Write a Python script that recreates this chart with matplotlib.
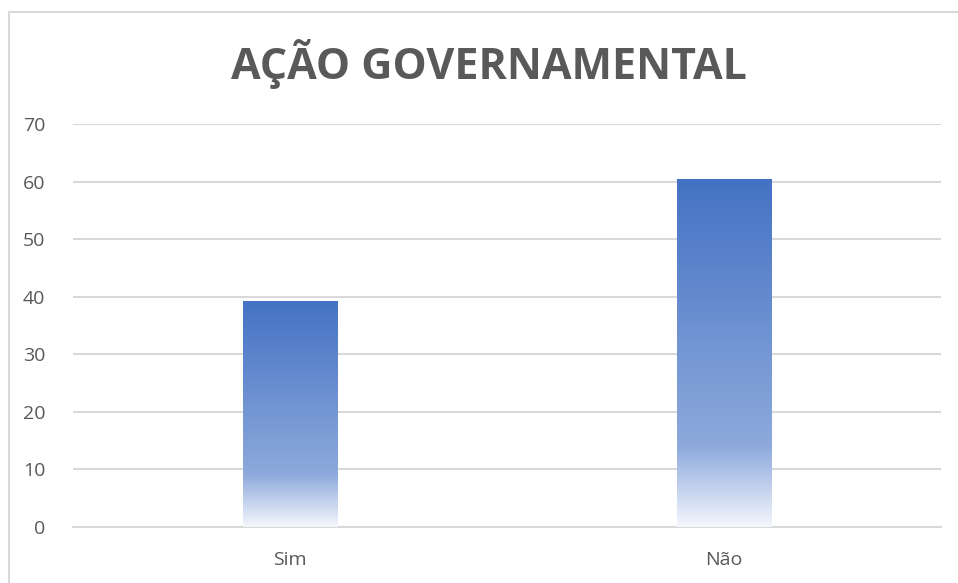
import numpy as np
import matplotlib.pyplot as plt
from matplotlib.patches import Rectangle
from matplotlib.colors import LinearSegmentedColormap

categories = ["Sim", "Não"]
values = [39.3, 60.4]
y_ticks = [0, 10, 20, 30, 40, 50, 60, 70]
title = "AÇÃO GOVERNAMENTAL"


def main():
    plt.rcParams['font.family'] = ['Open Sans', 'DejaVu Sans']
    W, H = 958, 583
    fig = plt.figure(figsize=(W / 100, H / 100), dpi=100)
    ax = fig.add_axes([73 / W, 1 - 527 / H, (941 - 73) / W, (527 - 124) / H])

    # chart border (Excel-like frame, cut by the image edges)
    fig.patches.append(Rectangle((9 / W, -0.1), 1.2, 1 - 12 / H + 0.1,
                                 transform=fig.transFigure, fill=False,
                                 edgecolor="#d9d9d9", linewidth=1.5))

    x = np.arange(len(categories))
    bars = ax.bar(x, values, width=0.217, color="none", edgecolor="none", zorder=3)

    # gradient fill: solid blue at top, fading to white at the base
    cmap = LinearSegmentedColormap.from_list("grad", [
        (0.0, "#f4f6fc"), (0.23, "#8eaadc"), (1.0, "#4472c4")])
    grad = np.linspace(0, 1, 256).reshape(-1, 1)
    for b in bars:
        im = ax.imshow(grad, cmap=cmap, origin="lower", aspect="auto",
                       extent=[b.get_x(), b.get_x() + b.get_width(), 0, b.get_height()],
                       zorder=3)
        im.set_clip_path(b)

    ax.set_xlim(-0.5, len(categories) - 0.5)
    ax.set_ylim(0, 70)
    ax.set_yticks(y_ticks)
    ax.set_xticks(x)
    ax.set_xticklabels(categories)
    ax.yaxis.grid(True, color="#d9d9d9", linewidth=1.5, zorder=0)
    ax.set_axisbelow(True)
    for s in ["top", "right", "left"]:
        ax.spines[s].set_visible(False)
    ax.spines["bottom"].set_color("#d9d9d9")
    ax.spines["bottom"].set_linewidth(1.5)
    ax.tick_params(length=0, labelsize=14, colors="#595959")
    ax.tick_params(axis="y", pad=20)
    ax.tick_params(axis="x", pad=17)

    fig.text((230 + 748) / 2 / W, 1 - 64 / H, title, ha="center", va="center",
             fontsize=31, fontweight="bold", color="#595959")

    fig.savefig("out.png", dpi=100)


if __name__ == "__main__":
    main()
